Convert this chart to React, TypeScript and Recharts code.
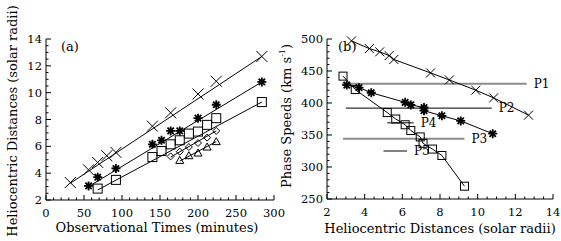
import React from "react";
import { ScatterChart, Scatter, XAxis, YAxis, ReferenceLine } from "recharts";

// panel (a): observational times (min) vs heliocentric distance (Rsun)
const crossTimes = [32, 56, 68, 80, 92, 140, 164, 200, 224, 284];
const crossDist = [3.3, 4.25, 4.8, 5.3, 5.55, 7.5, 8.5, 9.9, 10.85, 12.7];
const starTimes = [56, 68, 92, 140, 152, 164, 176, 200, 224, 284];
const starDist = [3.05, 3.7, 4.35, 6.15, 6.45, 7.15, 7.15, 8.1, 9.1, 10.8];
const squareTimes = [68, 92, 140, 152, 164, 176, 188, 200, 212, 224, 284];
const squareDist = [2.85, 3.5, 5.2, 5.65, 6.15, 6.45, 6.95, 7.1, 7.6, 8.1, 9.3];
const diamondTimes = [164, 176, 188, 200, 212, 224];
const diamondDist = [5.25, 5.6, 5.95, 6.25, 6.65, 7.15];
const triangleTimes = [176, 188, 200, 212, 224];
const triangleDist = [4.95, 5.3, 5.5, 5.95, 6.35];

// straight fit lines in (a): [t0, d0, t1, d1]
const crossFit = [32, 3.25, 284, 12.7];
const starFit = [56, 3.0, 284, 10.8];
const squareFit = [68, 2.75, 284, 9.3];
const diamondFit = [164, 5.2, 224, 7.15];
const triangleFit = [176, 4.9, 224, 6.35];

// panel (b): phase speeds (km/s) at the same distances
const crossSpeed = [497, 485, 480, 474, 468, 447, 436, 420, 408, 381];
const starSpeed = [428, 424, 416, 401, 397, 393, 388, 380, 372, 352];
const squareSpeed = [442, 421, 385, 375, 366, 357, 347, 337, 328, 318, 270];

// horizontal reference speeds P1..P5: [speed, dStart, dEnd]
const pNames = ["P1", "P2", "P3", "P4", "P5"];
const pSpeed = [430, 392, 344, 369, 325];
const pStart = [2.8, 3.0, 2.85, 5.2, 5.0];
const pEnd = [12.6, 10.75, 9.3, 6.6, 6.25];
const pGray = [true, false, true, false, false];

const timeTicks = [0, 50, 100, 150, 200, 250, 300];
const distTicksA = [2, 4, 6, 8, 10, 12, 14];
const distTicksB = [2, 4, 6, 8, 10, 12, 14];
const speedTicks = [250, 300, 350, 400, 450, 500];

const FONT = "'DejaVu Serif', serif";

const pts = (xs: number[], ys: number[]) => xs.map((x, i) => ({ x, y: ys[i] }));

const withMinor = (majors: number[], n: number) => {
  const out: number[] = [];
  for (let i = 0; i < majors.length - 1; i++) {
    const step = (majors[i + 1] - majors[i]) / n;
    for (let k = 0; k < n; k++) out.push(+(majors[i] + k * step).toFixed(4));
  }
  out.push(majors[majors.length - 1]);
  return out;
};

// draws inward tick marks (and labels on the bottom / left axes)
const makeTick = (orient: string, majors: number[], showLabel: boolean) => (p: any) => {
  const v = p.payload.value;
  const isMajor = majors.some((m) => Math.abs(m - v) < 1e-6);
  const L = isMajor ? 5 : 2.5;
  const { x, y } = p;
  let line = null;
  let label = null;
  if (orient === "bottom") {
    line = <line x1={x} y1={y} x2={x} y2={y - L} stroke="#000" />;
    if (isMajor && showLabel)
      label = (
        <text x={x} y={y + 17} textAnchor="middle" fontSize={11.5} fontFamily={FONT} fill="#000">
          {v}
        </text>
      );
  } else if (orient === "top") {
    line = <line x1={x} y1={y} x2={x} y2={y + L} stroke="#000" />;
  } else if (orient === "left") {
    line = <line x1={x} y1={y} x2={x + L} y2={y} stroke="#000" />;
    if (isMajor && showLabel)
      label = (
        <text x={x - 4} y={y + 4} textAnchor="end" fontSize={11.5} fontFamily={FONT} fill="#000">
          {v}
        </text>
      );
  } else {
    line = <line x1={x} y1={y} x2={x - L} y2={y} stroke="#000" />;
  }
  return (
    <g>
      {line}
      {label}
    </g>
  );
};

const Cross = (s: number) => (p: any) => (
  <path
    d={`M${p.cx - s},${p.cy - s}L${p.cx + s},${p.cy + s}M${p.cx - s},${p.cy + s}L${p.cx + s},${p.cy - s}`}
    stroke="#000"
    strokeWidth={1}
    fill="none"
  />
);

const Star = (s: number) => (p: any) => {
  const d = s * 0.7071;
  return (
    <path
      d={`M${p.cx - s},${p.cy}L${p.cx + s},${p.cy}M${p.cx},${p.cy - s}L${p.cx},${p.cy + s}M${p.cx - d},${p.cy - d}L${p.cx + d},${p.cy + d}M${p.cx - d},${p.cy + d}L${p.cx + d},${p.cy - d}`}
      stroke="#000"
      strokeWidth={1.8}
      fill="none"
    />
  );
};

const Square = (s: number) => (p: any) => (
  <rect x={p.cx - s} y={p.cy - s} width={2 * s} height={2 * s} stroke="#000" strokeWidth={1} fill="none" />
);

const Diamond = (s: number) => (p: any) => (
  <path
    d={`M${p.cx},${p.cy - s}L${p.cx + s},${p.cy}L${p.cx},${p.cy + s}L${p.cx - s},${p.cy}Z`}
    stroke="#000"
    strokeWidth={1}
    fill="none"
  />
);

const Triangle = (s: number) => (p: any) => (
  <path
    d={`M${p.cx},${p.cy - s}L${p.cx + s},${p.cy + s * 0.75}L${p.cx - s},${p.cy + s * 0.75}Z`}
    stroke="#000"
    strokeWidth={1}
    fill="none"
  />
);

const fitLine = (f: number[], key: string) => (
  <ReferenceLine
    key={key}
    segment={[
      { x: f[0], y: f[1] },
      { x: f[2], y: f[3] },
    ]}
    stroke="#000"
    strokeWidth={1}
  />
);

const pLabel = (name: string) => (props: any) => {
  const vb = props.viewBox || {};
  return (
    <text
      x={vb.x + vb.width + 7}
      y={vb.y + 4}
      fontSize={12}
      fontFamily={FONT}
      fill="#000"
      stroke="none"
    >
      {name}
    </text>
  );
};

const boxAxes = (xDom: number[], xTicks: number[], yDom: number[], yTicks: number[], xMinor: number, yMinor: number) => {
  const xAll = withMinor(xTicks, xMinor);
  const yAll = withMinor(yTicks, yMinor);
  return [
    <XAxis
      key="xb"
      type="number"
      dataKey="x"
      domain={xDom}
      ticks={xAll}
      interval={0}
      height={30}
      tickSize={0}
      tickMargin={0}
      tickLine={false}
      axisLine={{ stroke: "#000" }}
      tick={makeTick("bottom", xTicks, true)}
    />,
    <XAxis
      key="xt"
      xAxisId="top"
      orientation="top"
      type="number"
      domain={xDom}
      ticks={xAll}
      interval={0}
      height={0}
      tickSize={0}
      tickMargin={0}
      tickLine={false}
      axisLine={{ stroke: "#000" }}
      tick={makeTick("top", xTicks, false)}
    />,
    <YAxis
      key="yl"
      type="number"
      dataKey="y"
      domain={yDom}
      ticks={yAll}
      interval={0}
      width={46}
      tickSize={0}
      tickMargin={0}
      tickLine={false}
      axisLine={{ stroke: "#000" }}
      tick={makeTick("left", yTicks, true)}
    />,
    <YAxis
      key="yr"
      yAxisId="right"
      orientation="right"
      type="number"
      domain={yDom}
      ticks={yAll}
      interval={0}
      width={0}
      tickSize={0}
      tickMargin={0}
      tickLine={false}
      axisLine={{ stroke: "#000" }}
      tick={makeTick("right", yTicks, false)}
    />,
  ];
};

const textStyle: React.CSSProperties = {
  position: "absolute",
  fontFamily: FONT,
  fontSize: 13,
  color: "#000",
  whiteSpace: "nowrap",
  lineHeight: 1,
};

export default function App() {
  return (
    <div style={{ position: "relative", width: 561, height: 241, background: "#fff", overflow: "hidden" }}>
      <style>{"body{margin:0}"}</style>

      <div style={{ position: "absolute", left: 0, top: 0 }}>
        <ScatterChart width={290} height={241} margin={{ top: 39, right: 16, bottom: 11, left: 0 }}>
          {boxAxes([0, 300], timeTicks, [2, 14], distTicksA, 5, 4)}
          {fitLine(crossFit, "fc")}
          {fitLine(starFit, "fs")}
          {fitLine(squareFit, "fq")}
          {fitLine(diamondFit, "fd")}
          {fitLine(triangleFit, "ft")}
          <Scatter data={pts(crossTimes, crossDist)} shape={Cross(5.5)} isAnimationActive={false} />
          <Scatter data={pts(starTimes, starDist)} shape={Star(4.5)} isAnimationActive={false} />
          <Scatter data={pts(squareTimes, squareDist)} shape={Square(4.5)} isAnimationActive={false} />
          <Scatter data={pts(diamondTimes, diamondDist)} shape={Diamond(3.5)} isAnimationActive={false} />
          <Scatter data={pts(triangleTimes, triangleDist)} shape={Triangle(4)} isAnimationActive={false} />
        </ScatterChart>
      </div>

      <div style={{ position: "absolute", left: 281, top: 0 }}>
        <ScatterChart width={280} height={241} margin={{ top: 39, right: 8, bottom: 12, left: 0 }}>
          {boxAxes([2, 14], distTicksB, [250, 500], speedTicks, 4, 5)}
          {pNames.map((name, i) => (
            <ReferenceLine
              key={name}
              segment={[
                { x: pStart[i], y: pSpeed[i] },
                { x: pEnd[i], y: pSpeed[i] },
              ]}
              stroke={pGray[i] ? "#8c8c8c" : "#000"}
              strokeWidth={pGray[i] ? 2 : 1}
              label={pLabel(name)}
            />
          ))}
          <Scatter
            data={pts(crossDist, crossSpeed)}
            shape={Cross(4.5)}
            line={{ stroke: "#000", strokeWidth: 1 }}
            isAnimationActive={false}
          />
          <Scatter
            data={pts(starDist, starSpeed)}
            shape={Star(4.5)}
            line={{ stroke: "#000", strokeWidth: 1 }}
            isAnimationActive={false}
          />
          <Scatter
            data={pts(squareDist, squareSpeed)}
            shape={Square(4)}
            line={{ stroke: "#000", strokeWidth: 1 }}
            isAnimationActive={false}
          />
        </ScatterChart>
      </div>

      <div style={{ ...textStyle, left: 61, top: 40 }}>(a)</div>
      <div style={{ ...textStyle, left: 338, top: 40 }}>(b)</div>
      <div style={{ ...textStyle, left: 157, top: 227, transform: "translate(-50%,-50%)" }}>
        Observational Times (minutes)
      </div>
      <div style={{ ...textStyle, left: 440, top: 228, transform: "translate(-50%,-50%)" }}>
        Heliocentric Distances (solar radii)
      </div>
      <div style={{ ...textStyle, left: 12, top: 121, transform: "translate(-50%,-50%) rotate(-90deg)" }}>
        Heliocentric Distances (solar radii)
      </div>
      <div style={{ ...textStyle, left: 286, top: 116, transform: "translate(-50%,-50%) rotate(-90deg)" }}>
        Phase Speeds (km s<span style={{ fontSize: 8, verticalAlign: "6px" }}>-1</span>)
      </div>
    </div>
  );
}
